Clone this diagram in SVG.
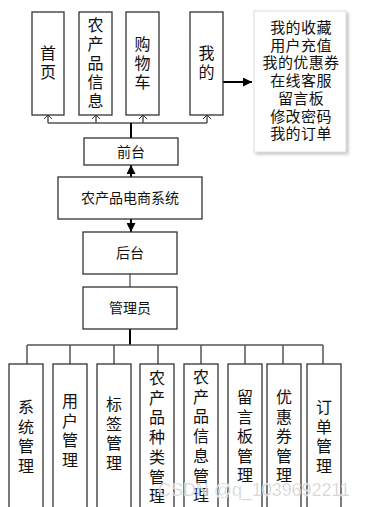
<svg xmlns="http://www.w3.org/2000/svg" width="365" height="507" viewBox="0 0 365 507">
<defs>
<style>
.box{fill:#fff;stroke:#333;stroke-width:1.3}
.t{font-family:"Noto Sans CJK SC","Noto Sans CJK JP",sans-serif;font-size:16px;fill:#111;text-anchor:middle}
.s{font-family:"Noto Sans CJK SC","Noto Sans CJK JP",sans-serif;font-size:14px;fill:#111;text-anchor:middle}
.l{font-family:"Noto Sans CJK SC","Noto Sans CJK JP",sans-serif;font-size:15px;fill:#111;text-anchor:middle;letter-spacing:0.4px}
.bus{fill:none;stroke:#555;stroke-width:1.5}
.thick{fill:none;stroke:#000;stroke-width:2}
.chev{fill:none;stroke:#333;stroke-width:1}
</style>
<marker id="fa" viewBox="0 0 10 10" refX="10" refY="5" markerWidth="9" markerHeight="9" markerUnits="userSpaceOnUse" orient="auto"><path d="M0,0 L10,5 L0,10 Z" fill="#000"/></marker>
<filter id="sh" x="-10%" y="-10%" width="130%" height="130%"><feDropShadow dx="2" dy="2" stdDeviation="1.5" flood-color="#999" flood-opacity="0.6"/></filter>
</defs>

<g id="connectors">
<path class="bus" d="M48,123 H207 M48,123 V115 M96,123 V115 M143,123 V115 M207,123 V115"/>
<path class="chev" d="M44,119 L48,115 L52,119 M92,119 L96,115 L100,119 M139,119 L143,115 L147,119 M203,119 L207,115 L211,119"/>
<path class="thick" d="M131,123 V138"/>
<path class="thick" d="M223,82 H252" marker-end="url(#fa)"/>
<path class="thick" d="M131,177 V165" marker-end="url(#fa)"/>
<path class="thick" d="M131,219 V232" marker-end="url(#fa)"/>
<path d="M130,274 V287" stroke="#555" stroke-width="1.3" fill="none"/>
<path class="thick" d="M130,329 V345"/>
<path class="bus" d="M27,345 H323 M27,345 V364 M70,345 V364 M114,345 V364 M158,345 V364 M201,345 V364 M245,345 V364 M283,345 V364 M323,345 V364"/>
</g>

<g id="shouye"><rect class="box" x="32" y="12" width="32" height="103"/>
<text class="t" x="48" y="59">首<tspan x="48" dy="19">页</tspan></text></g>

<g id="nongchanpin"><rect class="box" x="79" y="12" width="33" height="103"/>
<text class="t" x="95.5" y="31">农<tspan x="95.5" dy="19">产</tspan><tspan x="95.5" dy="19">品</tspan><tspan x="95.5" dy="19">信</tspan><tspan x="95.5" dy="19">息</tspan></text></g>

<g id="gouwuche"><rect class="box" x="126" y="12" width="33" height="103"/>
<text class="t" x="142.5" y="50">购<tspan x="142.5" dy="19">物</tspan><tspan x="142.5" dy="19">车</tspan></text></g>

<g id="wode"><rect class="box" x="190" y="12" width="33" height="103"/>
<text class="t" x="206.5" y="59">我<tspan x="206.5" dy="19">的</tspan></text></g>

<g id="list"><rect x="254" y="11" width="92" height="141" fill="#fff" stroke="#ddd" stroke-width="1" filter="url(#sh)"/>
<text class="l" x="301" y="33">我的收藏<tspan x="301" dy="17.7">用户充值</tspan><tspan x="301" dy="17.7">我的优惠券</tspan><tspan x="301" dy="17.7">在线客服</tspan><tspan x="301" dy="17.7">留言板</tspan><tspan x="301" dy="17.7">修改密码</tspan><tspan x="301" dy="17.7">我的订单</tspan></text></g>

<g id="qiantai"><rect class="box" x="84" y="138" width="94" height="27"/>
<text class="s" x="131" y="156.5">前台</text></g>

<g id="xitong"><rect class="box" x="58" y="177" width="144" height="42"/>
<text class="s" x="130" y="203">农产品电商系统</text></g>

<g id="houtai"><rect class="box" x="83" y="232" width="94" height="42"/>
<text class="s" x="130" y="258">后台</text></g>

<g id="guanliyuan"><rect class="box" x="83" y="287" width="94" height="42"/>
<text class="s" x="130" y="313">管理员</text></g>

<g id="b1"><rect class="box" x="9" y="364" width="34" height="150"/>
<text class="t" x="26" y="413">系<tspan x="26" dy="19.5">统</tspan><tspan x="26" dy="19.5">管</tspan><tspan x="26" dy="19.5">理</tspan></text></g>

<g id="b2"><rect class="box" x="53" y="364" width="34" height="150"/>
<text class="t" x="70" y="407">用<tspan x="70" dy="19.5">户</tspan><tspan x="70" dy="19.5">管</tspan><tspan x="70" dy="19.5">理</tspan></text></g>

<g id="b3"><rect class="box" x="97" y="364" width="34" height="150"/>
<text class="t" x="114" y="410">标<tspan x="114" dy="19.5">签</tspan><tspan x="114" dy="19.5">管</tspan><tspan x="114" dy="19.5">理</tspan></text></g>

<g id="b4"><rect class="box" x="140" y="364" width="34" height="150"/>
<text class="t" x="157" y="384">农<tspan x="157" dy="19.7">产</tspan><tspan x="157" dy="19.7">品</tspan><tspan x="157" dy="19.7">种</tspan><tspan x="157" dy="19.7">类</tspan><tspan x="157" dy="19.7">管</tspan><tspan x="157" dy="19.7">理</tspan></text></g>

<g id="b5"><rect class="box" x="184" y="364" width="34" height="150"/>
<text class="t" x="201" y="383">农<tspan x="201" dy="19.7">产</tspan><tspan x="201" dy="19.7">品</tspan><tspan x="201" dy="19.7">信</tspan><tspan x="201" dy="19.7">息</tspan><tspan x="201" dy="19.7">管</tspan><tspan x="201" dy="19.7">理</tspan></text></g>

<g id="b6"><rect class="box" x="228" y="364" width="34" height="150"/>
<text class="t" x="245" y="403">留<tspan x="245" dy="19.5">言</tspan><tspan x="245" dy="19.5">板</tspan><tspan x="245" dy="19.5">管</tspan><tspan x="245" dy="19.5">理</tspan></text></g>

<g id="b7"><rect class="box" x="267" y="364" width="34" height="150"/>
<text class="t" x="284" y="403">优<tspan x="284" dy="19.5">惠</tspan><tspan x="284" dy="19.5">券</tspan><tspan x="284" dy="19.5">管</tspan><tspan x="284" dy="19.5">理</tspan></text></g>

<g id="b8"><rect class="box" x="307" y="364" width="34" height="150"/>
<text class="t" x="324" y="413">订<tspan x="324" dy="19.5">单</tspan><tspan x="324" dy="19.5">管</tspan><tspan x="324" dy="19.5">理</tspan></text></g>

<text x="158" y="496" font-family="Liberation Sans, sans-serif" font-size="18" fill="#bbb" fill-opacity="0.85" stroke="#fff" stroke-width="0.5" textLength="192">CSDN @q_1039692211</text>
</svg>
